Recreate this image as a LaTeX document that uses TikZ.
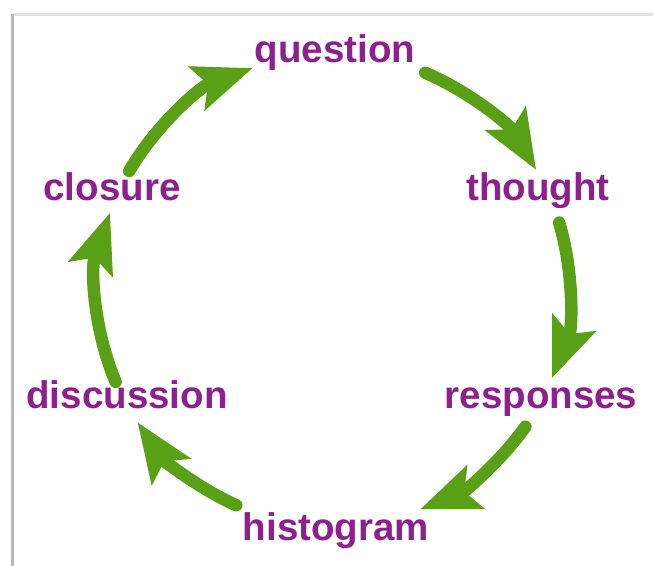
\documentclass[tikz,border=0pt]{standalone}
\usepackage{fontspec}
\setmainfont{Liberation Sans}
\usepackage{tikz}
\usetikzlibrary{arrows.meta}
\definecolor{stagepurple}{RGB}{142,31,142}
\definecolor{flowgreen}{RGB}{90,160,22}
\tikzset{
  stage/.style={inner sep=0pt,anchor=base,text=stagepurple,font=\fontsize{38.5}{40}\selectfont\bfseries},
  flow/.style={-{Stealth[length=60pt,width=48pt,inset=13pt,line width=0pt]},line width=12.5pt,line cap=round,flowgreen},
  frame/.style={line width=3pt}
}

\begin{document}
\begin{tikzpicture}[x=1pt,y=-1pt]
  \useasboundingbox (0,0) rectangle (653,565);
  \fill[white] (0,0) rectangle (653,565);
  \draw[frame,black!12] (12.5,14) -- (660,14);
  \draw[frame,black!28] (12.5,570) -- (12.5,14);

  \coordinate (C) at (333,290);

  \node[stage] (question) at (335,62) {question};
  \node[stage] (thought) at (538,200) {thought};
  \node[stage] (responses) at (541,408) {responses};
  \node[stage] (histogram) at (336,540) {histogram};
  \node[stage] (discussion) at (127,408) {discussion};
  \node[stage] (closure) at (112,200) {closure};

  \draw[flow] (C) ++(-67:236) arc[start angle=-67,end angle=-30.7,radius=236];
  \draw[flow] (C) ++(-16.6:236) arc[start angle=-16.6,end angle=21.8,radius=236];
  \draw[flow] (C) ++(35.4:236) arc[start angle=35.4,end angle=68.2,radius=236];
  \draw[flow] (C) ++(114.2:236) arc[start angle=114.2,end angle=145.8,radius=236];
  \draw[flow] (C) ++(157.1:236) arc[start angle=157.1,end angle=199,radius=236];
  \draw[flow] (C) ++(210.3:236) arc[start angle=210.3,end angle=250,radius=236];
\end{tikzpicture}
\end{document}
